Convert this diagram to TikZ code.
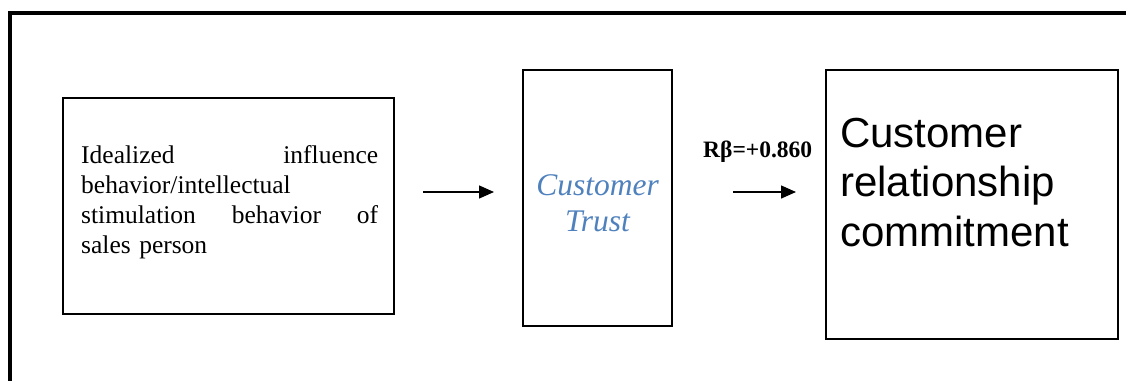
\documentclass[tikz,border=0pt]{standalone}
\usepackage{fontspec}
\setmainfont{Liberation Serif}
\newfontfamily\arialfont{Liberation Sans}
\usetikzlibrary{arrows.meta}
\definecolor{trustblue}{RGB}{79,129,189}
\tikzset{
  boxnode/.style={draw=black, line width=1.5pt, rectangle, inner sep=0pt},
  textnode/.style={inner sep=0pt},
  flowarrow/.style={line width=1.4pt, -{Triangle[length=15pt,width=13pt]}},
}
\begin{document}
\begin{tikzpicture}[x=1pt,y=-1pt]
\useasboundingbox (0,0) rectangle (1126,380);
% outer frame (top and left edges visible)
\draw[line width=4pt] (10,384) -- (10,13) -- (1130,13);
% box 1
\node[boxnode, minimum width=331pt, minimum height=216pt] (a) at (228.5,206) {};
\node[textnode, anchor=north west, text width=297pt, align=left,
      font=\fontsize{25.5}{30}\selectfont] (atext) at (81,145.5)
  {\makebox[297pt][s]{Idealized\hfill influence}\\
   behavior/intellectual\\
   \makebox[297pt][s]{stimulation\hfill behavior\hfill of}\\
   sales person};
% box 2
\node[boxnode, line width=1.8pt, minimum width=149pt, minimum height=256pt] (b) at (597.5,198) {};
\node[textnode, anchor=north, align=center, text=trustblue,
      font=\fontsize{31.5}{36}\selectfont\itshape] (btext) at (597.5,174)
  {Customer\\Trust};
% box 3
\node[boxnode, line width=1.7pt, minimum width=292pt, minimum height=269pt] (c) at (972,204.5) {};
\node[textnode, anchor=north west, align=left,
      font=\arialfont\fontsize{42}{49.5}\selectfont] (ctext) at (840,117.5)
  {Customer\\relationship\\commitment};
% label
\node[textnode, anchor=base west, font=\fontsize{23.5}{28}\selectfont\bfseries] (lbl) at (703,157) {Rβ=+0.860};
% arrows
\coordinate (a1s) at (423,192);
\coordinate (a1e) at (494,192);
\coordinate (a2s) at (733,192);
\coordinate (a2e) at (796,192);
\draw[flowarrow] (a1s) -- (a1e);
\draw[flowarrow] (a2s) -- (a2e);
\end{tikzpicture}
\end{document}
